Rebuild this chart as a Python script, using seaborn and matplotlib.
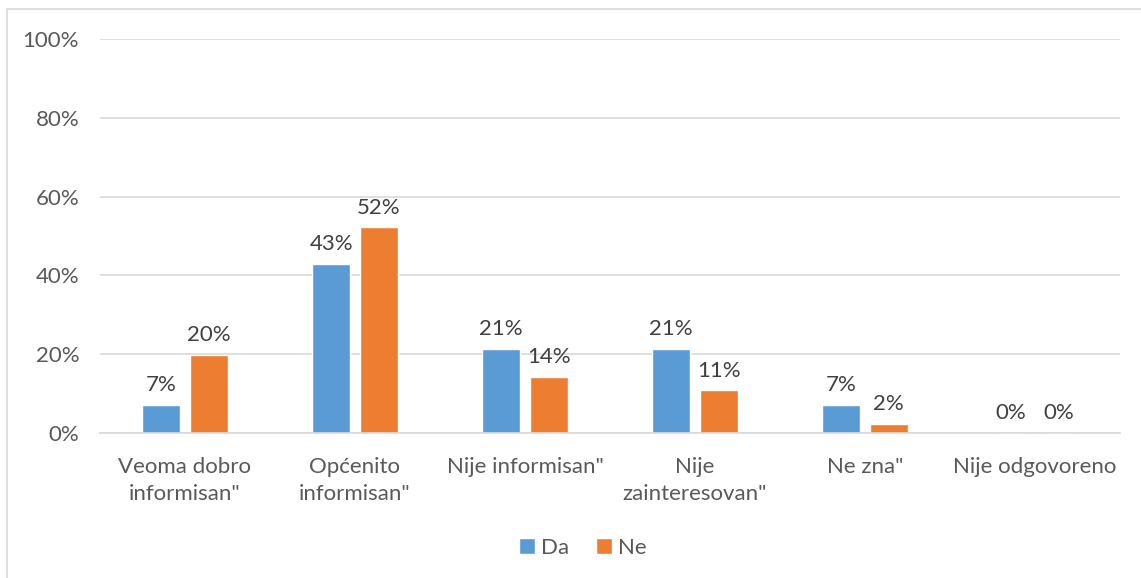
import matplotlib
matplotlib.use("Agg")
import matplotlib.pyplot as plt
import seaborn as sns
import pandas as pd
from matplotlib.patches import Rectangle

categories = ["Veoma dobro\ninformisan\"", "Općenito\ninformisan\"", "Nije informisan\"",
              "Nije\nzainteresovan\"", "Ne zna\"", "Nije odgovoreno"]
da_values = [7.1, 42.9, 21.4, 21.4, 7.1, 0.0]
ne_values = [19.8, 52.2, 14.3, 10.8, 2.4, 0.0]
series_names = ["Da", "Ne"]
y_ticks = [0, 20, 40, 60, 80, 100]

colors = ["#5B9BD5", "#ED7D31"]
text_color = "#595959"
grid_color = "#D9D9D9"

df = pd.DataFrame({
    "cat": categories * 2,
    "val": da_values + ne_values,
    "series": [series_names[0]] * len(categories) + [series_names[1]] * len(categories),
})

sns.set_style("white")
plt.rcParams["font.family"] = ["Lato", "DejaVu Sans"]

fig = plt.figure(figsize=(11.41, 5.78), dpi=100)
W, H = 1141, 578
ax = fig.add_axes([100 / W, 1 - 433 / H, (1120 - 100) / W, (433 - 39) / H])

sns.barplot(data=df, x="cat", y="val", hue="series", palette=colors, ax=ax,
            width=0.56, gap=0.2, saturation=1, errorbar=None, legend=True)

fs = 16
ax.set_ylim(0, 100)
ax.set_xlim(-0.5, len(categories) - 0.5)
ax.set_yticks(y_ticks)
ax.set_yticklabels([f"{t}%" for t in y_ticks])
ax.yaxis.grid(True, color=grid_color, linewidth=1.2)
ax.set_axisbelow(True)
for s in ["top", "right", "left"]:
    ax.spines[s].set_visible(False)
ax.spines["bottom"].set_color(grid_color)
ax.spines["bottom"].set_linewidth(1.2)
ax.tick_params(axis="both", length=0, labelsize=fs, colors=text_color)
ax.tick_params(axis="y", pad=15)
ax.tick_params(axis="x", pad=17)
for lbl in ax.get_xticklabels():
    lbl.set_linespacing(1.45)
ax.set_xlabel("")
ax.set_ylabel("")

for cont in ax.containers:
    ax.bar_label(cont, labels=[f"{v:.0f}%" for v in cont.datavalues], padding=7,
                 fontsize=fs, color="#404040")

leg = ax.legend(loc="center", bbox_to_anchor=(583 / W, 1 - 548 / H),
                bbox_transform=fig.transFigure, ncol=2, frameon=False,
                fontsize=fs, handlelength=0.7, handleheight=0.7,
                handletextpad=0.3, columnspacing=1.2, labelcolor=text_color)

fig.patches.append(Rectangle((7 / W, -0.1), 1.2, 1 - 9 / H + 0.1, transform=fig.transFigure,
                             fill=False, edgecolor=grid_color, linewidth=1.2, zorder=-1))

fig.savefig("out.png", dpi=100)
